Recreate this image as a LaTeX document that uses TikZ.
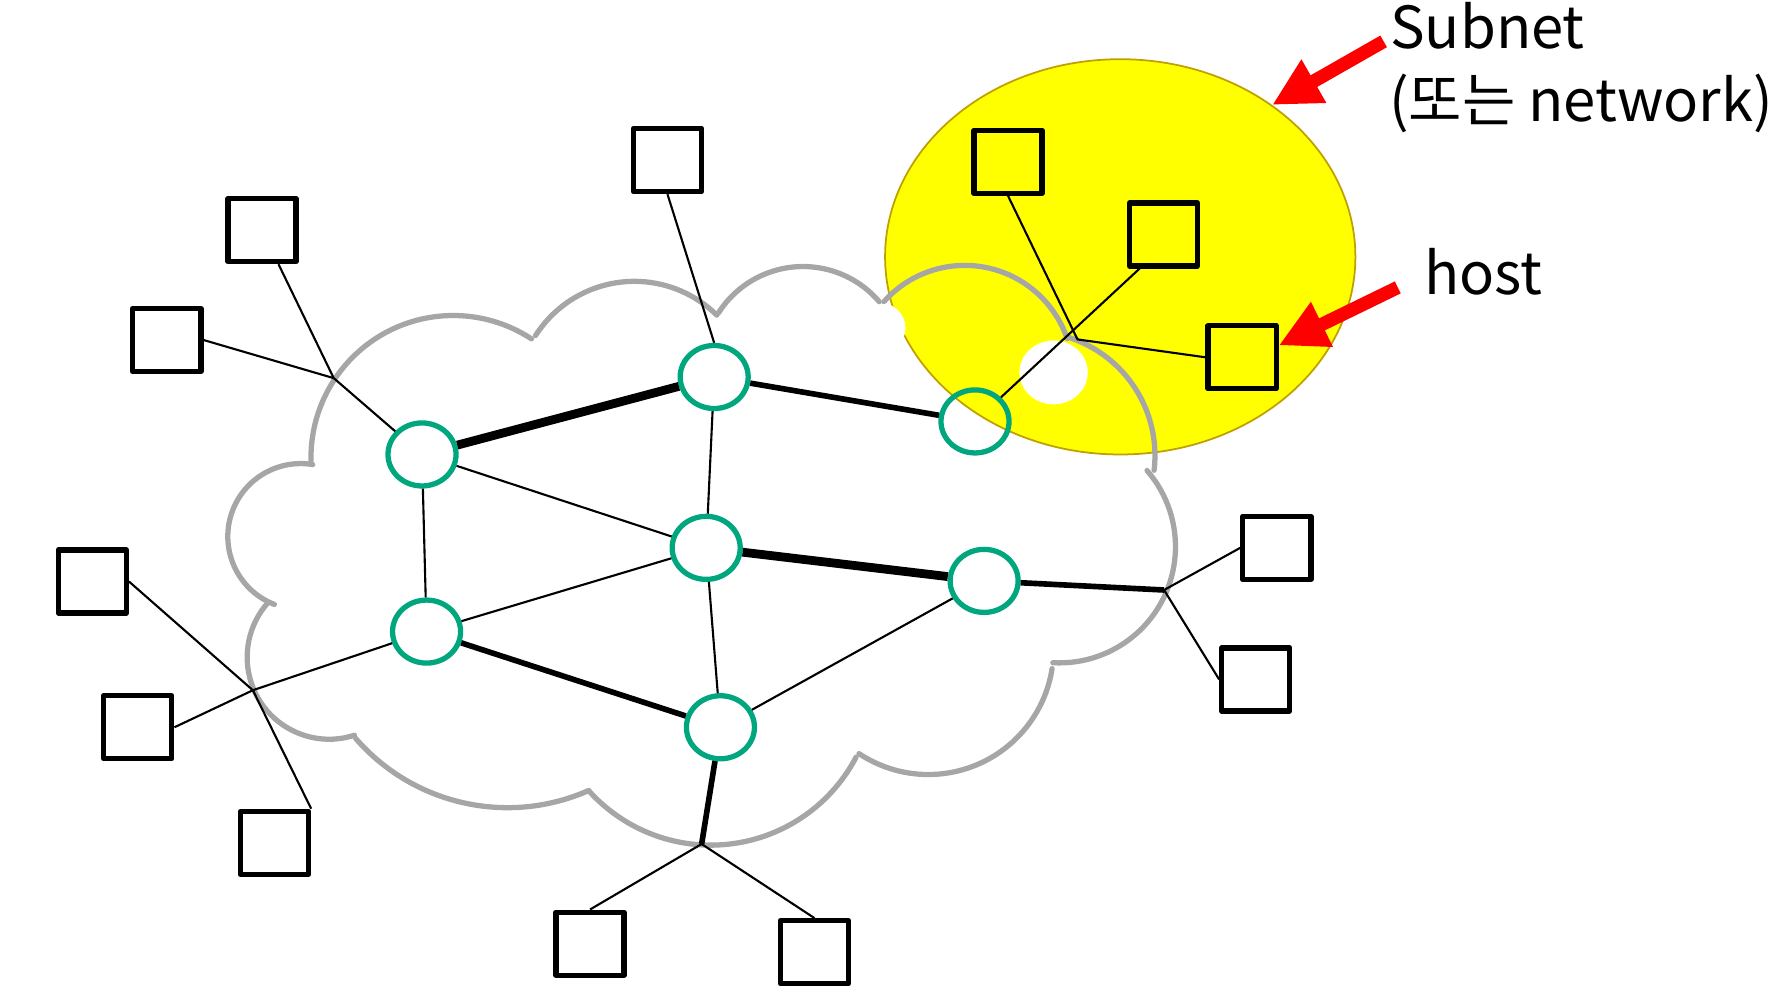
\documentclass[tikz,border=0pt]{standalone}
\usepackage{fontspec}
\newfontfamily\hangulfont{Noto Sans CJK KR}
\usepackage{tikz}
\usetikzlibrary{arrows.meta,shapes.geometric}
\definecolor{routergreen}{RGB}{0,166,126}
\definecolor{cloudgray}{RGB}{166,166,166}
\definecolor{subnetedge}{RGB}{191,160,0}
\definecolor{subnetfill}{RGB}{255,255,0}
\tikzset{
  host/.style={draw=black, line width=1.5pt, line join=round,
    minimum width=0.68cm, minimum height=0.63cm, inner sep=0pt},
  router/.style={ellipse, draw=routergreen, line width=1.5pt,
    minimum width=0.68cm, minimum height=0.63cm, inner sep=0pt},
  link/.style={line width=0.6pt, draw=black},
  trunk/.style={line width=1.6pt, draw=black},
  backbone/.style={line width=2.5pt, draw=black},
  cloudline/.style={draw=cloudgray, line width=1.5pt, line cap=round},
  pointer/.style={draw=red, line width=3.8pt,
    -{Triangle[length=4.8mm, width=4.65mm]}},
  labeltext/.style={font=\hangulfont\fontsize{16.5}{20}\selectfont,
    anchor=base west, inner sep=0pt}
}

\begin{document}
\begin{tikzpicture}[x=0.01139cm, y=-0.01139cm]
  \useasboundingbox (0,0) rectangle (1568,878);

  % subnet area first, everything else on top of it
  \node[ellipse, fill=subnetfill, draw=subnetedge, line width=0.5pt,
    minimum width=4.70cm, minimum height=3.95cm, inner sep=0pt]
    (subnet) at (983.5,225.5) {};
  \fill[white] (925,327) ellipse [x radius=30, y radius=28];
  \fill[white] (770,288) ellipse [x radius=25, y radius=23];

  % cloud outline: one arc per bump (centre x/centre y/start/end/radius)
  \foreach \cx/\cy/\sa/\ea/\r in {264/471/111.2/279.5/64,
      398/402/178.6/303.3/125, 557/350/212.5/314.6/103,
      705/322/212.4/319.5/88, 847/328/221.7/341.2/95,
      905/400/287.8/366.8/109, 930/480/-41/93.2/102,
      815/570/8.9/123.6/110, 624/598/27.6/138.1/144,
      445.5/532.7/66.1/139.2/176.4, 289/577/72/222/72}
    \draw[cloudline] (\cx,\cy) ++(\sa:\r)
      arc[start angle=\sa, end angle=\ea, radius=\r];

  % routers
  \node[router] (R1) at (370.5,399) {};
  \node[router] (R2) at (627,331) {};
  \node[router] (R3) at (856,370) {};
  \node[router] (R4) at (620,481) {};
  \node[router] (R5) at (864,510) {};
  \node[router] (R6) at (374.5,554.5) {};
  \node[router] (R7) at (632.5,638.5) {};

  % hosts
  \node[host] (hA) at (230,202) {};
  \node[host] (hB) at (146.5,298.5) {};
  \node[host] (hC) at (586,140.5) {};
  \node[host] (hD) at (885,142) {};
  \node[host] (hE) at (1021.5,205.8) {};
  \node[host] (hF) at (1090.5,313.7) {};
  \node[host] (hG) at (1121,481) {};
  \node[host] (hH) at (1102.5,596.5) {};
  \node[host] (hI) at (81,510.5) {};
  \node[host] (hJ) at (121,638.5) {};
  \node[host] (hK) at (241,740) {};
  \node[host] (hL) at (518,828.5) {};
  \node[host] (hM) at (715,836) {};

  % junctions where host lines meet
  \coordinate (jA) at (293,332);
  \coordinate (jB) at (222,606);
  \coordinate (jC) at (616,741);
  \coordinate (jD) at (1022,518);
  \coordinate (jE) at (946,298);

  % router to router
  \draw[backbone] (R1) -- (R2);
  \draw[trunk] (R2) -- (R3);
  \draw[link] (R1) -- (R4);
  \draw[link] (R1) -- (R6);
  \draw[link] (R2) -- (R4);
  \draw[backbone] (R4) -- (R5);
  \draw[link] (R4) -- (R6);
  \draw[link] (R4) -- (R7);
  \draw[trunk] (R6) -- (R7);
  \draw[link] (R7) -- (R5);

  % hosts to routers
  \draw[link] (hC.south) -- (R2.north);
  \draw[link] (hA) -- (jA);
  \draw[link] (hB.east) -- (jA);
  \draw[link] (jA) -- (R1);
  \draw[link] (hI.east) -- (jB);
  \draw[link] (hJ.east) -- (jB);
  \draw[link] (hK.north east) -- (jB);
  \draw[link] (jB) -- (R6);
  \draw[trunk] (R7) -- (jC);
  \draw[link] (jC) -- (hL.north);
  \draw[link] (jC) -- (hM.north);
  \draw[trunk] (R5) -- (jD);
  \draw[link] (jD) -- (hG.west);
  \draw[link] (jD) -- (hH.west);
  \draw[link] (hD.south) -- (jE) -- (hF.west);
  \draw[link] (R3) -- (hE.235);

  % labels and red pointers
  \node[labeltext] (subnetlbl) at (1220,43) {Subnet};
  \node[labeltext] (subnetsub) at (1219,107) {(또는 network)};
  \node[labeltext] (hostlbl) at (1250,259) {host};
  \coordinate (subnettail) at ([xshift=-0.6mm]subnetlbl.mid west);
  \coordinate (hosttail) at ([xshift=-2.6mm]hostlbl.mid west);
  \draw[pointer] (subnettail) -- (subnet.45);
  \draw[pointer] (hosttail) -- (hF.18);
\end{tikzpicture}
\end{document}
